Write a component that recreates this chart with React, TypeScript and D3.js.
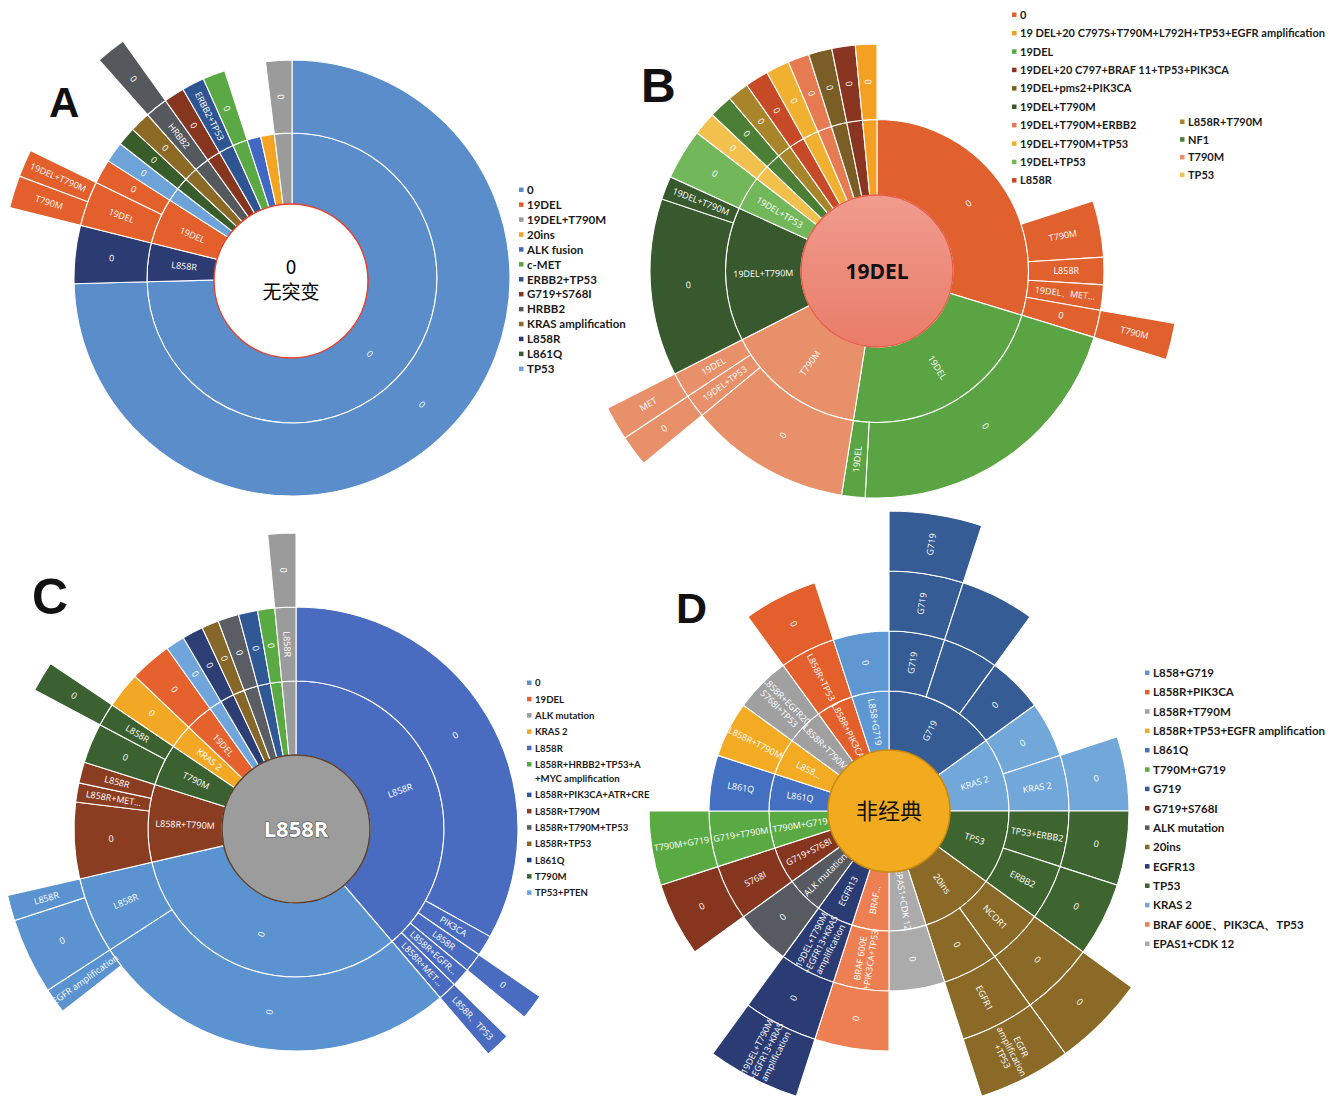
import { useEffect, useRef } from 'react';
import * as d3 from 'd3';

// [id, parent, label (null = not drawn), leaf value (share of circle), legend key for ring-1 nodes]
type Row = [string, string, string | null, number?, string?];

// ---------- Panel A ----------
const legendA = ['0', '19DEL', '19DEL+T790M', '20ins', 'ALK fusion', 'c-MET', 'ERBB2+TP53', 'G719+S768I', 'HRBB2', 'KRAS amplification', 'L858R', 'L861Q', 'TP53'];
const colorsA = ['#5a8dca', '#e3602c', '#9b9b9b', '#f4a425', '#4168c2', '#5aa944', '#2e5591', '#86361f', '#55585d', '#8c6a26', '#2c3b72', '#395c2b', '#6da3d9'];
const nodesA: Row[] = [
  ['A', '', ''],
  ['a0', 'A', '0', 0, '0'], ['a0-0', 'a0', '0', 268.5],
  ['a1', 'A', 'L858R', 0, 'L858R'], ['a1-0', 'a1', '0', 15.5],
  ['a2', 'A', '19DEL', 0, '19DEL'], ['a2-1', 'a2', '19DEL'], ['a2-1-1', 'a2-1', 'T790M', 6.5], ['a2-1-2', 'a2-1', '19DEL+T790M', 5.5], ['a2-2', 'a2', '0', 6.5],
  ['a3', 'A', '', 0, 'TP53'], ['a3-0', 'a3', '0', 5.5],
  ['a4', 'A', '', 0, 'L861Q'], ['a4-0', 'a4', '0', 5],
  ['a5', 'A', '', 0, 'KRAS amplification'], ['a5-0', 'a5', '0', 5.5],
  ['a6', 'A', '', 0, 'HRBB2'], ['a6-1', 'a6', 'HRBB2'], ['a6-1-0', 'a6-1', '0', 6],
  ['a7', 'A', '', 0, 'G719+S768I'], ['a7-0', 'a7', '0', 5.5],
  ['a8', 'A', '', 0, 'ERBB2+TP53'], ['a8-1', 'a8', 'ERBB2+TP53', 6],
  ['a9', 'A', '', 0, 'c-MET'], ['a9-0', 'a9', '0', 6],
  ['a10', 'A', '', 5.5, 'ALK fusion'],
  ['a11', 'A', '', 5.5, '20ins'],
  ['a12', 'A', '', 0, '19DEL+T790M'], ['a12-0', 'a12', '0', 7],
];

// ---------- Panel B ----------
const legendB = ['0', '19 DEL+20 C797S+T790M+L792H+TP53+EGFR amplification', '19DEL', '19DEL+20 C797+BRAF 11+TP53+PIK3CA', '19DEL+pms2+PIK3CA', '19DEL+T790M', '19DEL+T790M+ERBB2', '19DEL+T790M+TP53', '19DEL+TP53', 'L858R', 'L858R+T790M', 'NF1', 'T790M', 'TP53'];
const colorsB = ['#e0602e', '#f4a022', '#5ba443', '#8a3522', '#7b5e26', '#38582e', '#e67a50', '#f0b030', '#72b85a', '#c64a27', '#a8852a', '#4a7f35', '#e8906a', '#f2c04c'];
const nodesB: Row[] = [
  ['B', '', ''],
  ['b0', 'B', '0', 0, '0'], ['b0-x', 'b0', null, 72], ['b0-1', 'b0', 'T790M', 14.5], ['b0-2', 'b0', 'L858R', 7], ['b0-3', 'b0', '19DEL、MET…', 6.5], ['b0-4', 'b0', '0'], ['b0-4-1', 'b0-4', 'T790M', 7],
  ['b1', 'B', '19DEL', 0, '19DEL'], ['b1-0', 'b1', '0', 76], ['b1-1', 'b1', '19DEL', 6],
  ['b2', 'B', 'T790M', 0, 'T790M'], ['b2-0', 'b2', '0', 41.5], ['b2-1', 'b2', '19DEL+TP53'], ['b2-1-0', 'b2-1', '0', 6], ['b2-2', 'b2', '19DEL'], ['b2-2-1', 'b2-2', 'MET', 6.5],
  ['b3', 'B', '19DEL+T790M', 0, '19DEL+T790M'], ['b3-0', 'b3', '0', 45.5], ['b3-1', 'b3', '19DEL+T790M', 6],
  ['b4', 'B', '19DEL+TP53', 0, '19DEL+TP53'], ['b4-0', 'b4', '0', 13],
  ['b5', 'B', '', 0, 'TP53'], ['b5-0', 'b5', '0', 6],
  ['b6', 'B', '', 0, 'NF1'], ['b6-0', 'b6', '0', 6],
  ['b7', 'B', '', 0, 'L858R+T790M'], ['b7-0', 'b7', '0', 5.5],
  ['b8', 'B', '', 0, 'L858R'], ['b8-0', 'b8', '0', 6],
  ['b9', 'B', '', 0, '19DEL+T790M+TP53'], ['b9-0', 'b9', '0', 6],
  ['b10', 'B', '', 0, '19DEL+T790M+ERBB2'], ['b10-0', 'b10', '0', 5.5],
  ['b11', 'B', '', 0, '19DEL+pms2+PIK3CA'], ['b11-0', 'b11', '0', 6],
  ['b12', 'B', '', 0, '19DEL+20 C797+BRAF 11+TP53+PIK3CA'], ['b12-0', 'b12', '0', 6],
  ['b13', 'B', '', 0, '19 DEL+20 C797S+T790M+L792H+TP53+EGFR amplification'], ['b13-0', 'b13', '0', 5.5],
];

// ---------- Panel C ----------
const legendC = ['0', '19DEL', 'ALK mutation', 'KRAS 2', 'L858R', 'L858R+HRBB2+TP53+A\n+MYC amplification', 'L858R+PIK3CA+ATR+CRE', 'L858R+T790M', 'L858R+T790M+TP53', 'L858R+TP53', 'L861Q', 'T790M', 'TP53+PTEN'];
const colorsC = ['#5b93d0', '#e5622e', '#9b9b9b', '#f2a824', '#4a6cc0', '#5aaa44', '#2f5894', '#8b3d22', '#5a5e64', '#86672a', '#2c3e74', '#3c6130', '#6fa5da'];
const nodesC: Row[] = [
  ['C', '', ''],
  ['c0', 'C', 'L858R', 0, 'L858R'], ['c0-0', 'c0', '0', 119], ['c0-1', 'c0', 'PIK3CA', 5.5], ['c0-2', 'c0', 'L858R'], ['c0-2-0', 'c0-2', '0', 5], ['c0-3', 'c0', 'L858R+EGFR…', 5], ['c0-4', 'c0', 'L858R+MET…'], ['c0-4-1', 'c0-4', 'L858R、TP53', 5],
  ['c1', 'C', '0', 0, '0'], ['c1-0', 'c1', '0'], ['c1-0-x', 'c1-0', null, 92.5], ['c1-0-1', 'c1-0', 'EGFR amplification', 5], ['c1-1', 'c1', 'L858R'], ['c1-1-0', 'c1-1', '0', 15], ['c1-1-1', 'c1-1', 'L858R', 5],
  ['c2', 'C', 'L858R+T790M', 0, 'L858R+T790M'], ['c2-0', 'c2', '0', 20], ['c2-1', 'c2', 'L858R+MET…', 5], ['c2-2', 'c2', 'L858R', 5.5],
  ['c3', 'C', 'T790M', 0, 'T790M'], ['c3-0', 'c3', '0', 10.5], ['c3-1', 'c3', 'L858R'], ['c3-1-0', 'c3-1', '0', 6],
  ['c4', 'C', 'KRAS 2', 0, 'KRAS 2'], ['c4-0', 'c4', '0', 9.5],
  ['c5', 'C', '19DEL', 0, '19DEL'], ['c5-0', 'c5', '0', 11],
  ['c6', 'C', '', 0, 'TP53+PTEN'], ['c6-0', 'c6', '0', 5],
  ['c7', 'C', '', 0, 'L861Q'], ['c7-0', 'c7', '0', 5.5],
  ['c8', 'C', '', 0, 'L858R+TP53'], ['c8-0', 'c8', '0', 4.5],
  ['c9', 'C', '', 0, 'L858R+T790M+TP53'], ['c9-0', 'c9', '0', 5.5],
  ['c10', 'C', '', 0, 'L858R+PIK3CA+ATR+CRE'], ['c10-0', 'c10', '0', 5],
  ['c11', 'C', '', 0, 'L858R+HRBB2+TP53+A\n+MYC amplification'], ['c11-0', 'c11', '0', 4.5],
  ['c12', 'C', '', 0, 'ALK mutation'], ['c12-1', 'c12', 'L858R'], ['c12-1-0', 'c12-1', '0', 5.5],
];

// ---------- Panel D (one case per leaf) ----------
const legendD = ['L858+G719', 'L858R+PIK3CA', 'L858R+T790M', 'L858R+TP53+EGFR amplification', 'L861Q', 'T790M+G719', 'G719', 'G719+S768I', 'ALK mutation', '20ins', 'EGFR13', 'TP53', 'KRAS 2', 'BRAF 600E、PIK3CA、TP53', 'EPAS1+CDK 12'];
const colorsD = ['#5f97d2', '#e3602c', '#a0a0a0', '#f2ab22', '#4470c2', '#5aaa44', '#355c94', '#86361f', '#575b61', '#8a6a26', '#2b3c74', '#3e6530', '#72a7da', '#ee7f52', '#ababab'];
const EGFR13_LONG = '19DEL+T790M\n+EGFR13+KRAS\namplification';
const nodesD: Row[] = [
  ['D', '', ''],
  ['d0', 'D', 'G719', 0, 'G719'], ['d0-1', 'd0', 'G719'], ['d0-1-1', 'd0-1', 'G719'], ['d0-1-1-1', 'd0-1-1', 'G719', 1], ['d0-2', 'd0', ''], ['d0-2-1', 'd0-2', '', 1], ['d0-3', 'd0', '0', 1],
  ['d1', 'D', 'KRAS 2', 0, 'KRAS 2'], ['d1-0', 'd1', '0', 1], ['d1-1', 'd1', 'KRAS 2'], ['d1-1-0', 'd1-1', '0', 1],
  ['d2', 'D', 'TP53', 0, 'TP53'], ['d2-1', 'd2', 'TP53+ERBB2'], ['d2-1-0', 'd2-1', '0', 1], ['d2-2', 'd2', 'ERBB2'], ['d2-2-0', 'd2-2', '0', 1],
  ['d3', 'D', '20ins', 0, '20ins'], ['d3-1', 'd3', 'NCOR1'], ['d3-1-0', 'd3-1', '0'], ['d3-1-0-0', 'd3-1-0', '0', 1], ['d3-2', 'd3', '0'], ['d3-2-1', 'd3-2', 'EGFR1'], ['d3-2-1-1', 'd3-2-1', 'EGFR\namplification\n+TP53', 1],
  ['d4', 'D', 'EPAS1+CDK 12', 0, 'EPAS1+CDK 12'], ['d4-0', 'd4', '0', 1],
  ['d5', 'D', 'BRAF…', 0, 'BRAF 600E、PIK3CA、TP53'], ['d5-1', 'd5', 'BRAF 600E\n+PIK3CA+TP53'], ['d5-1-0', 'd5-1', '0', 1],
  ['d6', 'D', 'EGFR13', 0, 'EGFR13'], ['d6-1', 'd6', EGFR13_LONG], ['d6-1-0', 'd6-1', '0'], ['d6-1-0-1', 'd6-1-0', EGFR13_LONG, 1],
  ['d7', 'D', 'ALK mutation', 0, 'ALK mutation'], ['d7-0', 'd7', '0', 1],
  ['d8', 'D', 'G719+S768I', 0, 'G719+S768I'], ['d8-1', 'd8', 'S768I'], ['d8-1-0', 'd8-1', '0', 1],
  ['d9', 'D', 'T790M+G719', 0, 'T790M+G719'], ['d9-1', 'd9', 'G719+T790M'], ['d9-1-1', 'd9-1', 'T790M+G719', 1],
  ['d10', 'D', 'L861Q', 0, 'L861Q'], ['d10-1', 'd10', 'L861Q', 1],
  ['d11', 'D', 'L858…', 0, 'L858R+TP53+EGFR amplification'], ['d11-1', 'd11', 'L858R+T790M', 1],
  ['d12', 'D', 'L858R+T790M', 0, 'L858R+T790M'], ['d12-1', 'd12', 'L858R+EGFR20\nS768I+TP53', 1],
  ['d13', 'D', 'L858R+PIK3CA', 0, 'L858R+PIK3CA'], ['d13-1', 'd13', 'L858R+TP53'], ['d13-1-0', 'd13-1', '0', 1],
  ['d14', 'D', 'L858+G719', 0, 'L858+G719'], ['d14-0', 'd14', '0', 1],
];

type Layout = { cx: number; cy: number; hole: number; ringW: number };

function drawSunburst(svg: any, rows: Row[], names: string[], colors: string[], L: Layout) {
  const root = d3.stratify<Row>().id(d => d[0]).parentId(d => d[1])(rows);
  root.sum(d => d[3] || 0);
  d3.partition<Row>().size([2 * Math.PI, root.height + 1])(root as any);

  const color = d3.scaleOrdinal<string, string>().domain(names).range(colors);
  const r = d3.scaleLinear().domain([0, root.height]).range([L.hole, L.hole + root.height * L.ringW]);
  const keyOf = (n: any) => n.ancestors().find((a: any) => a.depth === 1).data[4];

  const nodes = root.descendants().filter((n: any) => n.depth > 0 && n.data[2] !== null);
  const arc = d3.arc<any>()
    .startAngle(d => d.x0)
    .endAngle(d => d.x1)
    .innerRadius(d => r(d.depth - 1))
    .outerRadius(d => r(d.depth));

  const g = svg.append('g').attr('transform', `translate(${L.cx},${L.cy})`);
  g.selectAll('path')
    .data(nodes)
    .join('path')
    .attr('d', arc)
    .attr('fill', (d: any) => color(keyOf(d)))
    .attr('stroke', '#fff')
    .attr('stroke-width', 1.1);

  // radial labels, as in the Excel sunburst
  const labelled = nodes.filter((n: any) => n.data[2]);
  const t = g.selectAll('text.seg')
    .data(labelled)
    .join('text')
    .attr('class', 'seg')
    .attr('transform', (d: any) => {
      const a = (d.x0 + d.x1) / 2;
      const deg = (a * 180) / Math.PI;
      const rm = (r(d.depth - 1) + r(d.depth)) / 2;
      const rot = deg < 180 ? deg - 90 : deg - 270;
      return `translate(${Math.sin(a) * rm},${-Math.cos(a) * rm}) rotate(${rot})`;
    })
    .attr('text-anchor', 'middle')
    .attr('fill', '#fff')
    .style('font-family', '"Open Sans", sans-serif')
    .style('font-size', '9px');
  t.each(function (this: any, d: any) {
    const lines = (d.data[2] as string).split('\n');
    const sel = d3.select(this);
    lines.forEach((ln, i) => {
      sel.append('tspan')
        .attr('x', 0)
        .attr('y', (i - (lines.length - 1) / 2) * 10.5)
        .attr('dy', '0.35em')
        .text(ln);
    });
  });
}

function drawLegend(svg: any, names: string[], colors: string[], x: number, y0: number, step: number, size: number) {
  const color = d3.scaleOrdinal<string, string>().domain(names).range(colors);
  let extra = 0;
  names.forEach((name, i) => {
    const lines = name.split('\n');
    const y = y0 + i * step + extra;
    svg.append('rect').attr('x', x).attr('y', y - 2.5).attr('width', 4.5).attr('height', 4.5).attr('fill', color(name));
    lines.forEach((ln, j) => {
      svg.append('text')
        .attr('x', x + 8)
        .attr('y', y + j * (step - 2))
        .attr('dy', '0.35em')
        .attr('fill', '#1a1a1a')
        .style('font-family', 'Lato, sans-serif')
        .style('font-weight', 700)
        .style('font-size', `${size}px`)
        .text(ln);
    });
    extra += (lines.length - 1) * (step - 2);
  });
}

export default function App() {
  const ref = useRef<SVGSVGElement>(null);

  useEffect(() => {
    if (!ref.current) return;
    const svg = d3.select(ref.current);
    svg.selectAll('*').remove();

    const defs = svg.append('defs');
    const grad = defs.append('linearGradient').attr('id', 'pinkB').attr('x1', 0).attr('y1', 0).attr('x2', 0).attr('y2', 1);
    grad.append('stop').attr('offset', '0%').attr('stop-color', '#f09c8e');
    grad.append('stop').attr('offset', '100%').attr('stop-color', '#e97c69');

    // A
    drawSunburst(svg, nodesA, legendA, colorsA, { cx: 292, cy: 278, hole: 72, ringW: 73 });
    svg.append('circle').attr('cx', 291).attr('cy', 281).attr('r', 77).attr('fill', '#fff').attr('stroke', '#e8412c').attr('stroke-width', 1.5);
    svg.append('text').attr('x', 291).attr('y', 274).attr('text-anchor', 'middle').style('font-family', '"Noto Sans CJK SC", serif').style('font-size', '19px').text('0');
    svg.append('text').attr('x', 291).attr('y', 299).attr('text-anchor', 'middle').style('font-family', '"Noto Sans CJK SC", serif').style('font-size', '19px').text('无突变');
    drawLegend(svg, legendA, colorsA, 519, 190, 14.92, 11.5);

    // B
    drawSunburst(svg, nodesB, legendB, colorsB, { cx: 877, cy: 271, hole: 76, ringW: 75.5 });
    svg.append('circle').attr('cx', 877).attr('cy', 271).attr('r', 76).attr('fill', 'url(#pinkB)').attr('stroke', '#e85a45').attr('stroke-width', 1.5);
    svg.append('text').attr('x', 877).attr('y', 279).attr('text-anchor', 'middle').style('font-family', '"Open Sans", sans-serif').style('font-weight', 700).style('font-size', '21px').attr('fill', '#111').text('19DEL');
    drawLegend(svg, legendB.slice(0, 10), colorsB.slice(0, 10), 1012, 15, 18.4, 11);
    drawLegend(svg, legendB.slice(10), colorsB.slice(10), 1180, 122, 17.7, 11);

    // C
    drawSunburst(svg, nodesC, legendC, colorsC, { cx: 296, cy: 829, hole: 74, ringW: 74 });
    svg.append('circle').attr('cx', 296).attr('cy', 829).attr('r', 74).attr('fill', '#9c9c9c').attr('stroke', '#5a4030').attr('stroke-width', 1.5);
    svg.append('text').attr('x', 296).attr('y', 837).attr('text-anchor', 'middle').style('font-family', '"Open Sans", sans-serif').style('font-weight', 700).style('font-size', '22px')
      .attr('fill', '#fff').attr('stroke', '#555').attr('stroke-width', 1.2).attr('paint-order', 'stroke').text('L858R');
    drawLegend(svg, legendC, colorsC, 527, 683, 16.3, 9.6);

    // D
    drawSunburst(svg, nodesD, legendD, colorsD, { cx: 889, cy: 811, hole: 60, ringW: 60 });
    svg.append('circle').attr('cx', 889).attr('cy', 811).attr('r', 61).attr('fill', '#f2ab1f').attr('stroke', '#c98a12').attr('stroke-width', 1.5);
    svg.append('text').attr('x', 889).attr('y', 819).attr('text-anchor', 'middle').style('font-family', '"Noto Sans CJK SC", sans-serif').style('font-size', '22px').attr('fill', '#111').text('非经典');
    drawLegend(svg, legendD, colorsD, 1145, 673, 19.36, 11.5);

    // panel letters
    const letters: [string, number, number, number][] = [['A', 49, 117, 42], ['B', 641, 102, 48], ['C', 32, 614, 50], ['D', 676, 623, 43]];
    letters.forEach(([s, x, y, fs]) => {
      svg.append('text').attr('x', x).attr('y', y)
        .style('font-family', '"Liberation Sans", Arial, sans-serif').style('font-weight', 700).style('font-size', `${fs}px`)
        .attr('fill', '#111').text(s);
    });
  }, []);

  return (
    <svg ref={ref} width={1337} height={1105} style={{ position: 'absolute', left: 0, top: 0, background: '#fff' }} />
  );
}
